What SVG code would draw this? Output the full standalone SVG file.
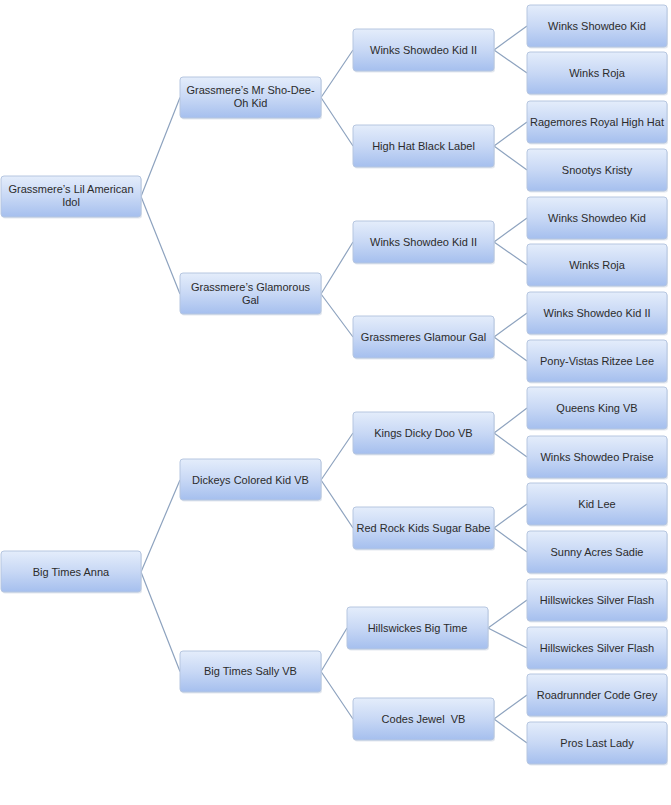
<svg xmlns="http://www.w3.org/2000/svg" width="671" height="805" viewBox="0 0 671 805">
<defs>
<linearGradient id="g" x1="0" y1="0" x2="0" y2="1">
<stop offset="0" stop-color="#e4edfb"/>
<stop offset="0.5" stop-color="#c8d8f5"/>
<stop offset="1" stop-color="#a5bfee"/>
</linearGradient>
</defs>
<style>
.n rect.b{fill:url(#g);stroke:#b6c6e0;stroke-width:1}
.n rect.s{fill:#c8d2e0;opacity:0.5}
.n text{font-family:"Liberation Sans",Arial,sans-serif;font-size:11px;fill:#2b2b2b;text-anchor:middle;white-space:pre}
#connectors path{stroke:#8ea3bf;stroke-width:1.2;fill:none}
</style>
<rect width="671" height="805" fill="#fff"/>
<g id="connectors">
<path d="M141,196.5L180,97.5M141,196.5L180,294"/>
<path d="M141,572L180,480M141,572L180,671.5"/>
<path d="M321,97.5L353,50M321,97.5L353,146"/>
<path d="M321,294L353,242M321,294L353,337"/>
<path d="M321,480L353,433M321,480L353,528"/>
<path d="M321,671.5L347,628M321,671.5L353,719"/>
<path d="M494,50L527,26M494,50L527,73"/>
<path d="M494,146L527,122M494,146L527,170"/>
<path d="M494,242L527,218M494,242L527,265"/>
<path d="M494,337L527,313M494,337L527,361"/>
<path d="M494,433L527,408M494,433L527,457"/>
<path d="M494,528L527,504M494,528L527,552"/>
<path d="M488,628L527,600M488,628L527,648"/>
<path d="M494,719L527,695M494,719L527,743"/>
</g>
<g id="root1" class="n"><rect class="s" x="2" y="177.5" width="140" height="41" rx="3"/><rect class="b" x="1" y="176" width="140" height="41" rx="3"/><text x="71" y="193">Grassmere’s Lil American</text><text x="71" y="206">Idol</text></g>
<g id="root2" class="n"><rect class="s" x="2" y="552.5" width="140" height="41" rx="3"/><rect class="b" x="1" y="551" width="140" height="41" rx="3"/><text x="71" y="576">Big Times Anna</text></g>
<g id="g1a" class="n"><rect class="s" x="181" y="78.5" width="141" height="41" rx="3"/><rect class="b" x="180" y="77" width="141" height="41" rx="3"/><text x="250.5" y="94">Grassmere’s Mr Sho-Dee-</text><text x="250.5" y="107">Oh Kid</text></g>
<g id="g1b" class="n"><rect class="s" x="181" y="274.5" width="141" height="41" rx="3"/><rect class="b" x="180" y="273" width="141" height="41" rx="3"/><text x="250.5" y="291">Grassmere’s Glamorous</text><text x="250.5" y="304">Gal</text></g>
<g id="g1c" class="n"><rect class="s" x="181" y="460.5" width="141" height="41" rx="3"/><rect class="b" x="180" y="459" width="141" height="41" rx="3"/><text x="250.5" y="484">Dickeys Colored Kid VB</text></g>
<g id="g1d" class="n"><rect class="s" x="181" y="652.5" width="141" height="41" rx="3"/><rect class="b" x="180" y="651" width="141" height="41" rx="3"/><text x="250.5" y="675">Big Times Sally VB</text></g>
<g id="g2a" class="n"><rect class="s" x="354" y="30.5" width="141" height="42" rx="3"/><rect class="b" x="353" y="29" width="141" height="42" rx="3"/><text x="423.5" y="54">Winks Showdeo Kid II</text></g>
<g id="g2b" class="n"><rect class="s" x="354" y="126.5" width="141" height="42" rx="3"/><rect class="b" x="353" y="125" width="141" height="42" rx="3"/><text x="423.5" y="150">High Hat Black Label</text></g>
<g id="g2c" class="n"><rect class="s" x="354" y="222.5" width="141" height="42" rx="3"/><rect class="b" x="353" y="221" width="141" height="42" rx="3"/><text x="423.5" y="246">Winks Showdeo Kid II</text></g>
<g id="g2d" class="n"><rect class="s" x="354" y="317.5" width="141" height="42" rx="3"/><rect class="b" x="353" y="316" width="141" height="42" rx="3"/><text x="423.5" y="341">Grassmeres Glamour Gal</text></g>
<g id="g2e" class="n"><rect class="s" x="354" y="413.5" width="141" height="42" rx="3"/><rect class="b" x="353" y="412" width="141" height="42" rx="3"/><text x="423.5" y="437">Kings Dicky Doo VB</text></g>
<g id="g2f" class="n"><rect class="s" x="354" y="508.5" width="141" height="42" rx="3"/><rect class="b" x="353" y="507" width="141" height="42" rx="3"/><text x="423.5" y="532">Red Rock Kids Sugar Babe</text></g>
<g id="g2g" class="n"><rect class="s" x="348" y="608.5" width="141" height="42" rx="3"/><rect class="b" x="347" y="607" width="141" height="42" rx="3"/><text x="417.5" y="632">Hillswickes Big Time</text></g>
<g id="g2h" class="n"><rect class="s" x="354" y="699.5" width="141" height="42" rx="3"/><rect class="b" x="353" y="698" width="141" height="42" rx="3"/><text x="423.5" y="723" xml:space="preserve">Codes Jewel  VB</text></g>
<g id="g3a" class="n"><rect class="s" x="528" y="6.5" width="140" height="42" rx="3"/><rect class="b" x="527" y="5" width="140" height="42" rx="3"/><text x="597" y="30">Winks Showdeo Kid</text></g>
<g id="g3b" class="n"><rect class="s" x="528" y="53.5" width="140" height="42" rx="3"/><rect class="b" x="527" y="52" width="140" height="42" rx="3"/><text x="597" y="77">Winks Roja</text></g>
<g id="g3c" class="n"><rect class="s" x="528" y="102.5" width="140" height="42" rx="3"/><rect class="b" x="527" y="101" width="140" height="42" rx="3"/><text x="597" y="126">Ragemores Royal High Hat</text></g>
<g id="g3d" class="n"><rect class="s" x="528" y="150.5" width="140" height="42" rx="3"/><rect class="b" x="527" y="149" width="140" height="42" rx="3"/><text x="597" y="174">Snootys Kristy</text></g>
<g id="g3e" class="n"><rect class="s" x="528" y="198.5" width="140" height="42" rx="3"/><rect class="b" x="527" y="197" width="140" height="42" rx="3"/><text x="597" y="222">Winks Showdeo Kid</text></g>
<g id="g3f" class="n"><rect class="s" x="528" y="245.5" width="140" height="42" rx="3"/><rect class="b" x="527" y="244" width="140" height="42" rx="3"/><text x="597" y="269">Winks Roja</text></g>
<g id="g3g" class="n"><rect class="s" x="528" y="293.5" width="140" height="42" rx="3"/><rect class="b" x="527" y="292" width="140" height="42" rx="3"/><text x="597" y="317">Winks Showdeo Kid II</text></g>
<g id="g3h" class="n"><rect class="s" x="528" y="341.5" width="140" height="42" rx="3"/><rect class="b" x="527" y="340" width="140" height="42" rx="3"/><text x="597" y="365">Pony-Vistas Ritzee Lee</text></g>
<g id="g3i" class="n"><rect class="s" x="528" y="388.5" width="140" height="42" rx="3"/><rect class="b" x="527" y="387" width="140" height="42" rx="3"/><text x="597" y="412">Queens King VB</text></g>
<g id="g3j" class="n"><rect class="s" x="528" y="437.5" width="140" height="42" rx="3"/><rect class="b" x="527" y="436" width="140" height="42" rx="3"/><text x="597" y="461">Winks Showdeo Praise</text></g>
<g id="g3k" class="n"><rect class="s" x="528" y="484.5" width="140" height="42" rx="3"/><rect class="b" x="527" y="483" width="140" height="42" rx="3"/><text x="597" y="508">Kid Lee</text></g>
<g id="g3l" class="n"><rect class="s" x="528" y="532.5" width="140" height="42" rx="3"/><rect class="b" x="527" y="531" width="140" height="42" rx="3"/><text x="597" y="556">Sunny Acres Sadie</text></g>
<g id="g3m" class="n"><rect class="s" x="528" y="580.5" width="140" height="42" rx="3"/><rect class="b" x="527" y="579" width="140" height="42" rx="3"/><text x="597" y="604">Hillswickes Silver Flash</text></g>
<g id="g3n" class="n"><rect class="s" x="528" y="628.5" width="140" height="42" rx="3"/><rect class="b" x="527" y="627" width="140" height="42" rx="3"/><text x="597" y="652">Hillswickes Silver Flash</text></g>
<g id="g3o" class="n"><rect class="s" x="528" y="675.5" width="140" height="42" rx="3"/><rect class="b" x="527" y="674" width="140" height="42" rx="3"/><text x="597" y="699">Roadrunnder Code Grey</text></g>
<g id="g3p" class="n"><rect class="s" x="528" y="723.5" width="140" height="42" rx="3"/><rect class="b" x="527" y="722" width="140" height="42" rx="3"/><text x="597" y="747">Pros Last Lady</text></g>
</svg>
